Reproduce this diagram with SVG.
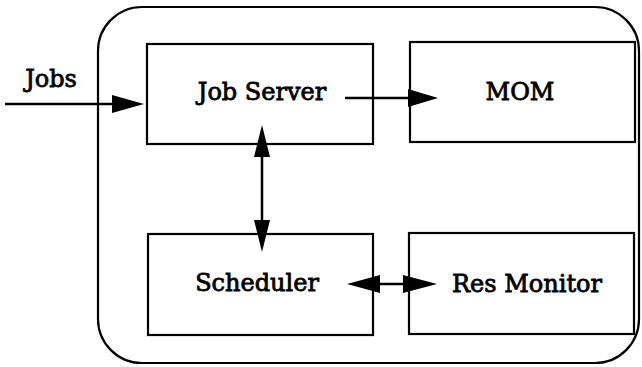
<svg xmlns="http://www.w3.org/2000/svg" width="642" height="367" viewBox="0 0 642 367">
<style>
.box{fill:none;stroke:#000;stroke-width:2.2}
.lbl{font-family:"DejaVu Serif","Liberation Serif",serif;font-size:24px;fill:#000;stroke:#000;stroke-width:0.8;text-anchor:middle}
.ln{stroke:#000;stroke-width:2.5;fill:none}
.ah{fill:#000}
</style>
<rect width="642" height="367" fill="#fff"/>
<rect id="container" x="98" y="7" width="541" height="356" rx="44" ry="44" class="box" stroke-width="2.5"/>
<g id="job-server"><rect x="147" y="44" width="226" height="100" class="box"/><text x="262" y="100" class="lbl">Job Server</text></g>
<g id="mom"><rect x="410" y="42" width="225" height="100" class="box"/><text x="520" y="100" class="lbl">MOM</text></g>
<g id="scheduler"><rect x="148" y="234" width="225" height="101" class="box"/><text x="257" y="291" class="lbl">Scheduler</text></g>
<g id="res-monitor"><rect x="409" y="233" width="225" height="101" class="box"/><text x="527" y="292" class="lbl">Res Monitor</text></g>
<g id="jobs-label"><text x="51" y="87" class="lbl">Jobs</text></g>
<g id="connectors">
<line x1="5" y1="104" x2="120" y2="104" class="ln"/>
<polygon points="144,104 112,95 112,113" class="ah"/>
<line x1="345" y1="98" x2="415" y2="98" class="ln"/>
<polygon points="438,98 408,89 408,107" class="ah"/>
<line x1="262" y1="150" x2="262" y2="228" class="ln"/>
<polygon points="262,125 254,157 270,157" class="ah"/>
<polygon points="262,252 254,220 270,220" class="ah"/>
<line x1="370" y1="284" x2="410" y2="284" class="ln"/>
<polygon points="347,284 380,275 380,293" class="ah"/>
<polygon points="437,284 403,275 403,293" class="ah"/>
</g>
</svg>
